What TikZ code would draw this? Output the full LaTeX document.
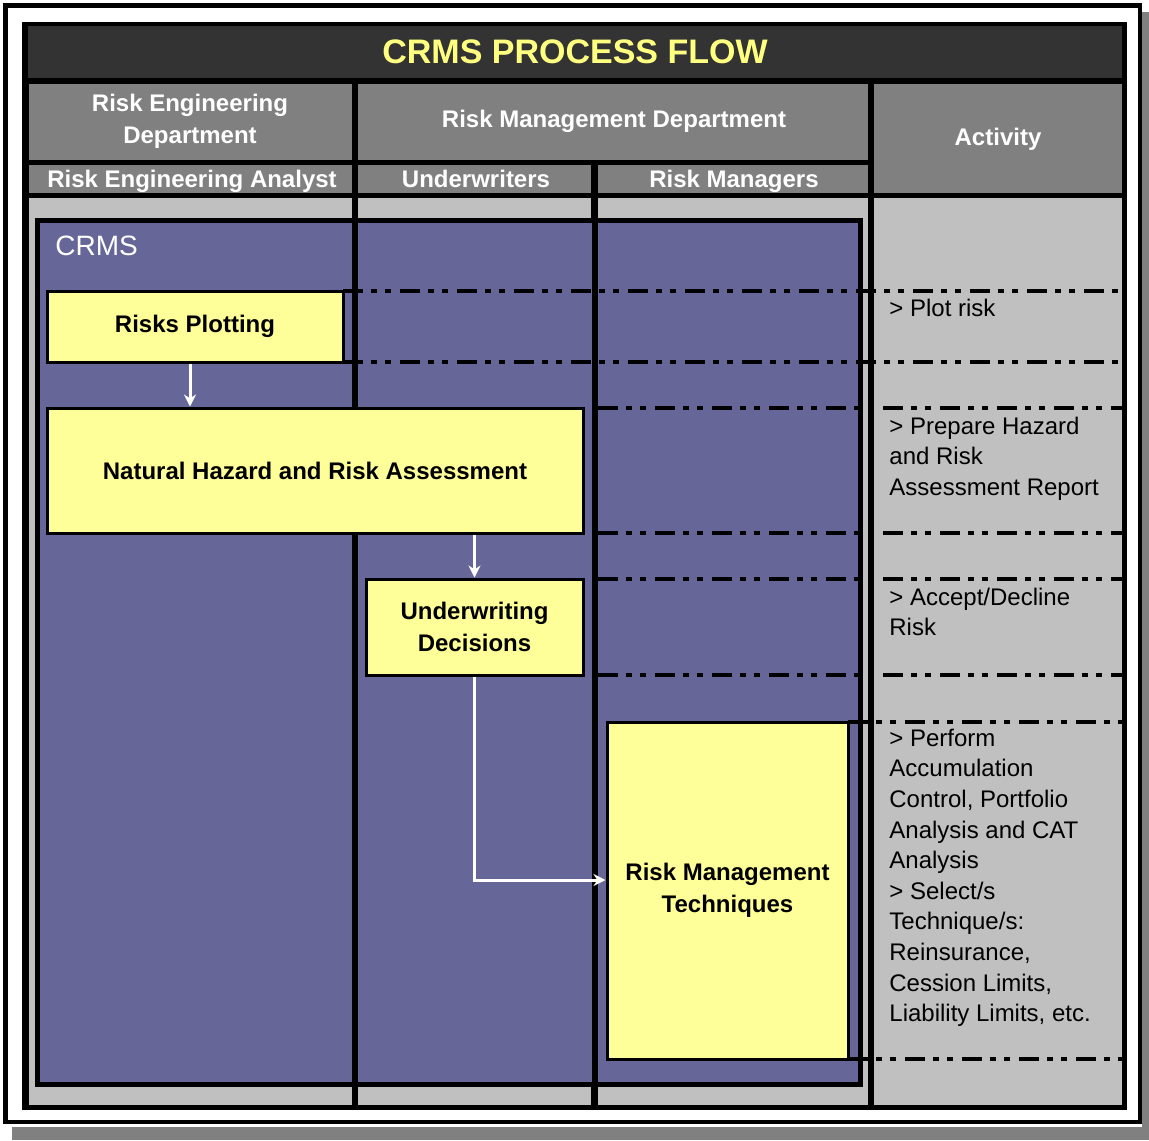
\documentclass[tikz,border=0pt]{standalone}
\usepackage{fontspec}
\setmainfont{Liberation Sans}
\usetikzlibrary{arrows.meta,calc}
\definecolor{crmsbar}{HTML}{333333}
\definecolor{crmshead}{HTML}{808080}
\definecolor{crmsbody}{HTML}{C0C0C0}
\definecolor{crmslane}{HTML}{666699}
\definecolor{crmsbox}{HTML}{FFFF99}
\definecolor{crmstitle}{HTML}{FFFF80}

\begin{document}
\begin{tikzpicture}[x=.5pt,y=-.5pt,
 hd/.style={text=white,inner sep=0pt,align=center,font=\bfseries\fontsize{12}{16}\selectfont},
 bx/.style={draw,line width=1.5pt,fill=crmsbox,inner sep=0pt,align=center,font=\bfseries\fontsize{12}{16}\selectfont},
 act/.style={anchor=north west,inner sep=0pt,align=left,font=\fontsize{12}{15.3}\selectfont},
 dd/.style={line width=1.75pt,dash pattern=on 10pt off 4pt on 3pt off 4pt on 3pt off 4.5pt},
 flow/.style={draw=white,line width=1.5pt,-{Stealth[length=6pt,width=6pt]}}]
\useasboundingbox(0,0)rectangle(1149,1140);
\fill[crmshead](12,1127)rectangle(1149,1140);\fill[crmshead](1142,12)rectangle(1149,1140);
\draw[line width=2.25pt,fill=white](5.5,5.5)rectangle(1140,1122);
\fill(22,22)rectangle(1127,1110);
\fill[crmsbar](28,26)rectangle(1122,78);
\node[text=crmstitle,inner sep=0pt,font=\bfseries\fontsize{17}{20}\selectfont](ttl)at(575,52){CRMS PROCESS FLOW};
\fill[crmshead](29,84)rectangle(352,160);\fill[crmshead](358,84)rectangle(868,160);\fill[crmshead](874,84)rectangle(1122,193);
\fill[crmshead](29,165)rectangle(352,193);\fill[crmshead](358,165)rectangle(591,193);\fill[crmshead](598,165)rectangle(868,193);
\foreach \a/\b in {29/352,358/591,598/868,874/1122}\fill[crmsbody](\a,198)rectangle(\b,1105);
\node[hd](red)at(190,121){Risk Engineering\\Department};\node[hd](rmd)at(614,121){Risk Management Department};\node[hd](acth)at(998,139){Activity};
\node[hd,anchor=base](rea)at(192,187){Risk Engineering Analyst};\node[hd,anchor=base](uw)at(476,187){Underwriters};\node[hd,anchor=base](rm)at(734,187){Risk Managers};
\draw[line width=2.5pt,fill=crmslane](37.5,220)rectangle(860,1084.5);
\node[text=white,anchor=base west,inner sep=0pt,font=\fontsize{14}{16}\selectfont](lane)at(55,255){CRMS};
\foreach \y/\a in {291/343,362/343,408/598,533/598,579/598,675/598,722/848,1059/848}\draw[dd](\a,\y)--(1122,\y);
\draw[line width=3pt](355,220)--(355,1084.5);\draw[line width=3pt](594.5,220)--(594.5,1084.5);
\node[bx,minimum width=148pt,minimum height=35.5pt](plot)at(195,326.5){Risks Plotting};
\node[bx,minimum width=268pt,minimum height=62.5pt](nhra)at(315,470.5){Natural Hazard and Risk Assessment};
\node[bx,minimum width=108.5pt,minimum height=48pt](uwd)at(474.5,627){Underwriting\\Decisions};
\node[bx,minimum width=120.5pt,minimum height=168.5pt](rmt)at(727.5,890.5){Risk Management\\Techniques};
\draw[flow]([xshift=-2.5pt]plot.south)--([xshift=-2.5pt]plot.south|-nhra.north);\draw[flow](uwd|-nhra.south)--(uwd);\draw[flow](uwd)|-(rmt.west|-0,880);
\node[act](a1)at(889,298.5){> Plot risk};
\node[act](a2)at(889,416.5){> Prepare Hazard\\and Risk\\Assessment Report};
\node[act](a3)at(889,587.5){> Accept/Decline\\Risk};
\node[act](a4)at(889,728.5){> Perform\\Accumulation\\Control, Portfolio\\Analysis and CAT\\Analysis\\> Select/s\\Technique/s:\\Reinsurance,\\Cession Limits,\\Liability Limits, etc.};
\end{tikzpicture}
\end{document}
